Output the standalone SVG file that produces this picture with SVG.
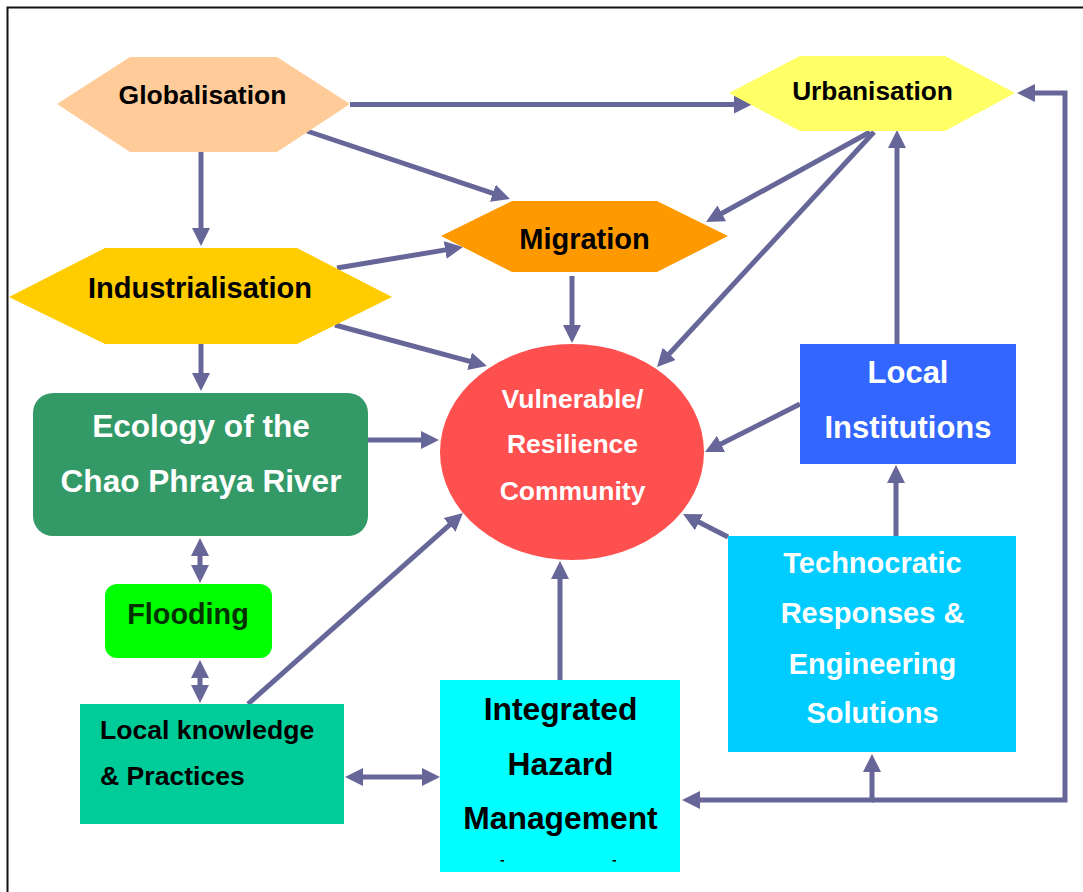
<svg xmlns="http://www.w3.org/2000/svg" width="1083" height="892" viewBox="0 0 1083 892">
  <defs>
    <marker id="arrow" markerUnits="userSpaceOnUse" viewBox="0 0 18 18" markerWidth="18" markerHeight="18" refX="8" refY="9" orient="auto-start-reverse">
      <path d="M0,0 L18,9 L0,18 Z" fill="#666699"/>
    </marker>
    <style>
      .lbl { font-family: "Liberation Sans", Arial, sans-serif; font-weight: bold; text-anchor: middle; }
      .dark { fill: #000; }
      .light { fill: #fff; }
      .conn { fill: none; stroke: #666699; stroke-width: 5; stroke-linejoin: miter; }
      .one { marker-end: url(#arrow); }
      .two { marker-start: url(#arrow); marker-end: url(#arrow); }
    </style>
  </defs>

  <rect width="1083" height="892" fill="#fff"/>
  <!-- outer frame -->
  <rect x="7.5" y="7.5" width="1100" height="900" fill="none" stroke="#111" stroke-width="2"/>

  <!-- connectors -->
  <g id="connectors">
    <line class="conn one" x1="350" y1="104.5" x2="742" y2="104.5"/>
    <line class="conn one" x1="307" y1="131" x2="500.5" y2="195.8"/>
    <line class="conn one" x1="201" y1="152" x2="201" y2="236"/>
    <line class="conn one" x1="337" y1="268" x2="453.1" y2="248.6"/>
    <line class="conn one" x1="335" y1="325" x2="477.3" y2="363.4"/>
    <line class="conn one" x1="201" y1="344" x2="201" y2="381"/>
    <line class="conn one" x1="572" y1="276" x2="572" y2="333"/>
    <line class="conn one" x1="870" y1="132" x2="714.8" y2="217.2"/>
    <line class="conn one" x1="874" y1="132" x2="663.8" y2="359.7"/>
    <line class="conn one" x1="368" y1="440" x2="429" y2="440"/>
    <line class="conn one" x1="800" y1="404" x2="713.9" y2="447.5"/>
    <line class="conn one" x1="897" y1="344" x2="897" y2="140"/>
    <line class="conn one" x1="896" y1="536" x2="896" y2="475"/>
    <line class="conn one" x1="728" y1="537" x2="691.9" y2="518.6"/>
    <line class="conn one" x1="248" y1="704" x2="455.5" y2="519.6"/>
    <line class="conn one" x1="560" y1="680" x2="560" y2="571"/>
    <line class="conn two" x1="200" y1="548" x2="200" y2="573"/>
    <line class="conn two" x1="200" y1="670" x2="200" y2="693"/>
    <line class="conn two" x1="355" y1="777" x2="430" y2="777"/>
    <!-- feedback loop along the bottom and right edge -->
    <path class="conn one" d="M872,800 H1065 V93 H1027"/>
    <path class="conn one" d="M874,800 H692"/>
    <path class="conn one" d="M872,802 V764"/>
  </g>

  <g id="globalisation">
    <polygon points="57,104 130,57 277,57 350,104 277,152 130,152" fill="#FFCC99"/>
    <text class="lbl dark" x="202.5" y="104" font-size="26.5">Globalisation</text>
  </g>

  <g id="urbanisation">
    <polygon points="729,93 800,56 945,56 1015,93 945,131 800,131" fill="#FFFF66"/>
    <text class="lbl dark" x="872.5" y="100" font-size="26.3">Urbanisation</text>
  </g>

  <g id="industrialisation">
    <polygon points="9,297 105,248 297,248 392,297 297,344 105,344" fill="#FFCC00"/>
    <text class="lbl dark" x="200" y="298" font-size="29">Industrialisation</text>
  </g>

  <g id="migration">
    <polygon points="441,236 512,201 657,201 728,236 657,272 512,272" fill="#FF9900"/>
    <text class="lbl dark" x="584.5" y="249" font-size="29">Migration</text>
  </g>

  <g id="community">
    <ellipse cx="572" cy="452" rx="132" ry="108" fill="#FF5050"/>
    <text class="lbl light" x="572.5" y="408" font-size="26.5">Vulnerable/</text>
    <text class="lbl light" x="572.5" y="453" font-size="26.5">Resilience</text>
    <text class="lbl light" x="572.5" y="500" font-size="26.5">Community</text>
  </g>

  <g id="ecology">
    <rect x="33" y="393" width="335" height="143" rx="20" fill="#339966"/>
    <text class="lbl light" x="201" y="437" font-size="31.6">Ecology of the</text>
    <text class="lbl light" x="201" y="492" font-size="31.6">Chao Phraya River</text>
  </g>

  <g id="flooding">
    <rect x="105" y="584" width="167" height="74" rx="12" fill="#00FF00"/>
    <text class="lbl" x="188" y="624" font-size="28.8" fill="#003300">Flooding</text>
  </g>

  <g id="local-knowledge">
    <rect x="80" y="704" width="264" height="120" fill="#00CC99"/>
    <text class="lbl dark" x="100" y="739" font-size="26.6" style="text-anchor:start">Local knowledge</text>
    <text class="lbl dark" x="100" y="785" font-size="26.6" style="text-anchor:start">&amp; Practices</text>
  </g>

  <g id="hazard-management">
    <rect x="440" y="680" width="240" height="192" fill="#00FFFF"/>
    <text class="lbl dark" x="560.5" y="720" font-size="31.8">Integrated</text>
    <text class="lbl dark" x="560.5" y="775" font-size="31.8">Hazard</text>
    <text class="lbl dark" x="560.5" y="829" font-size="31.8">Management</text>
    <rect x="500.5" y="860" width="3.5" height="1.6" fill="#000"/>
    <rect x="612.5" y="860" width="3.5" height="1.6" fill="#000"/>
  </g>

  <g id="technocratic">
    <rect x="728" y="536" width="288" height="216" fill="#00CCFF"/>
    <text class="lbl light" x="872.5" y="573" font-size="29">Technocratic</text>
    <text class="lbl light" x="872.5" y="623" font-size="29">Responses &amp;</text>
    <text class="lbl light" x="872.5" y="674" font-size="29">Engineering</text>
    <text class="lbl light" x="872.5" y="723" font-size="29">Solutions</text>
  </g>

  <g id="local-institutions">
    <rect x="800" y="344" width="216" height="120" fill="#3366FF"/>
    <text class="lbl light" x="908" y="383" font-size="31">Local</text>
    <text class="lbl light" x="908" y="438" font-size="31">Institutions</text>
  </g>
</svg>
